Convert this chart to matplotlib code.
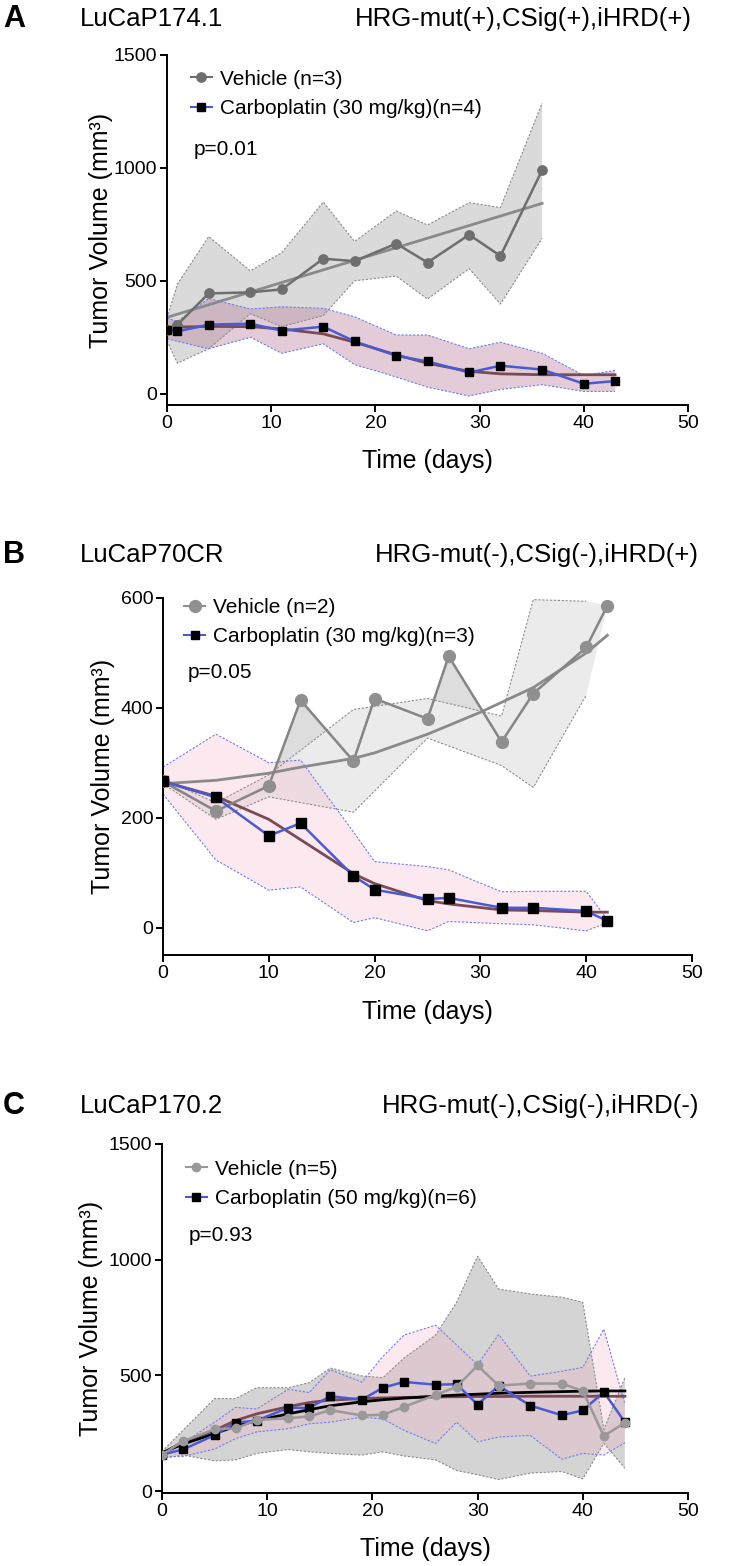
import matplotlib
matplotlib.use("Agg")
from matplotlib import pyplot as plt
from matplotlib.lines import Line2D

plt.rcParams['font.family'] = ['Liberation Sans', 'DejaVu Sans']

W, H = 747, 1566

# ---------------- data ----------------
# Panel A  LuCaP174.1
a_veh_days = [0, 1, 4, 8, 11, 15, 18, 22, 25, 29, 32, 36]
a_veh_mean = [282, 306, 444, 449, 462, 598, 587, 665, 581, 704, 610, 990]
a_veh_up = [335, 485, 696, 544, 624, 849, 674, 809, 747, 846, 824, 1287]
a_veh_lo = [235, 135, 199, 354, 297, 346, 500, 521, 419, 554, 397, 688]
a_veh_fit_days = [0, 36]
a_veh_fit = [338, 843]

a_carbo_days = [0, 1, 4, 8, 11, 15, 18, 22, 25, 29, 32, 36, 40, 43]
a_carbo_mean = [282, 276, 306, 310, 279, 297, 232, 168, 143, 94, 124, 107, 44, 56]
a_carbo_up = [335, 320, 422, 375, 385, 378, 341, 260, 260, 199, 228, 179, 81, 103]
a_carbo_lo = [243, 232, 199, 250, 179, 221, 129, 74, 29, -10, 19, 40, 10, 10]
a_carbo_fit_days = [0, 4, 8, 11, 15, 18, 22, 25, 29, 32, 36, 40, 43]
a_carbo_fit = [294, 298, 297, 287, 265, 228, 172, 135, 99, 88, 84, 84, 84]

# Panel B  LuCaP70CR
b_veh_days = [0, 5, 10, 13, 18, 20, 25, 27, 32, 35, 40, 42]
b_veh_mean = [266, 212, 258, 414, 303, 417, 380, 494, 338, 426, 510, 586]
b_veh_band_days = [0, 5, 10, 18, 25, 32, 35, 40]
b_veh_up = [271, 227, 278, 397, 417, 385, 597, 594]
b_veh_lo = [262, 197, 238, 210, 345, 295, 255, 423]
b_veh_fit_days = [0, 5, 10, 13, 18, 20, 25, 30, 35, 40, 42]
b_veh_fit = [262, 268, 281, 292, 308, 318, 352, 392, 437, 500, 532]

b_carbo_days = [0, 5, 10, 13, 18, 20, 25, 27, 32, 35, 40, 42]
b_carbo_mean = [266, 237, 167, 190, 94, 69, 52, 54, 36, 36, 30, 12]
b_carbo_up = [292, 352, 300, 305, 174, 120, 111, 105, 65, 66, 66, 15]
b_carbo_lo = [243, 123, 68, 74, 9, 18, -6, 11, 7, 5, -6, 9]
b_carbo_fit_days = [0, 5, 10, 13, 18, 20, 25, 27, 32, 35, 40, 42]
b_carbo_fit = [266, 239, 197, 160, 98, 80, 49, 43, 32, 31, 28, 28]

# Panel C  LuCaP170.2
c_days = [0, 2, 5, 7, 9, 12, 14, 16, 19, 21, 23, 26, 28, 30, 32, 35, 38, 40, 42, 44]
c_veh_mean = [158, 215, 268, 271, 308, 315, 323, 350, 327, 330, 364, 416, 451, 543, 456, 465, 465, 433, 238, 296]
c_veh_up = [171, 263, 400, 400, 447, 447, 469, 532, 498, 490, 575, 674, 816, 1015, 873, 852, 838, 816, 267, 490]
c_veh_lo = [141, 156, 131, 135, 163, 180, 170, 163, 156, 170, 152, 135, 89, 71, 50, 78, 85, 53, 207, 99]
c_veh_fit = [166, 203, 249, 280, 305, 334, 352, 369, 386, 395, 402, 410, 415, 419, 423, 427, 430, 432, 433, 433]

c_carbo_mean = [158, 180, 242, 296, 305, 360, 360, 410, 395, 447, 472, 460, 462, 374, 455, 370, 328, 349, 428, 298]
c_carbo_up = [168, 208, 298, 362, 355, 440, 426, 525, 471, 582, 674, 717, 632, 546, 677, 497, 518, 535, 700, 376]
c_carbo_lo = [148, 150, 182, 227, 256, 270, 291, 298, 320, 312, 263, 206, 298, 213, 234, 241, 138, 163, 156, 209]
c_carbo_fit = [163, 213, 263, 305, 334, 365, 383, 393, 400, 403, 405, 407, 408, 409, 409, 410, 410, 410, 410, 410]

BLUE = '#4a5ad6'
BROWN = '#7a4a55'

fig = plt.figure(figsize=(W / 100, H / 100), dpi=100)


def make_axes(left, right, top, bottom):
    return fig.add_axes([left / W, 1 - bottom / H, (right - left) / W, (bottom - top) / H])


def band(ax, days, mean, bdays, up, lo, color, alpha, edge):
    # fill mean->upper and lower->mean separately (overlap gets darker)
    ax.fill(list(days) + list(bdays)[::-1], list(mean) + list(up)[::-1],
            color=color, alpha=alpha, lw=0, zorder=1)
    ax.fill(list(days) + list(bdays)[::-1], list(mean) + list(lo)[::-1],
            color=color, alpha=alpha, lw=0, zorder=1)
    ax.plot(bdays, up, color=edge, lw=0.8, ls=(0, (2, 1.5)), zorder=1.5)
    ax.plot(bdays, lo, color=edge, lw=0.8, ls=(0, (2, 1.5)), zorder=1.5)


def style(ax, ymin, ymax, yticks, ylab_x):
    ax.set_xlim(0, 50)
    ax.set_ylim(ymin, ymax)
    ax.set_xticks(range(0, 51, 10))
    ax.set_yticks(yticks)
    for s in ['top', 'right']:
        ax.spines[s].set_visible(False)
    for s in ['left', 'bottom']:
        ax.spines[s].set_linewidth(1.4)
    ax.tick_params(labelsize=14, length=5, width=1.4, pad=2)
    ax.set_xlabel('Time (days)', fontsize=18)
    ax.set_ylabel('Tumor Volume (mm³)', fontsize=18)
    ax.xaxis.set_label_coords(0.5, -0.125)
    ax.yaxis.set_label_coords(ylab_x, 0.5)


def legend(ax, veh_label, carbo_label, veh_color, ms_c, x, y, ptext, py):
    h1 = Line2D([], [], color=veh_color, marker='o', ms=ms_c, lw=1.5)
    h2 = Line2D([], [], color=BLUE, marker='s', mfc='black', mec='black', ms=6, lw=1.5)
    ax.legend([h1, h2], [veh_label, carbo_label], loc='upper left', bbox_to_anchor=(x, y),
              frameon=False, fontsize=15, handlelength=1.0, handletextpad=0.4,
              labelspacing=0.5, borderpad=0, borderaxespad=0)
    ax.text(x + 0.006, py, ptext, transform=ax.transAxes, fontsize=15, va='center')


def header(y, letter, name, tags, right):
    fig.text(3 / W, 1 - y / H, letter, fontsize=22, fontweight='bold', va='center')
    fig.text(80 / W, 1 - y / H, name, fontsize=18.5, va='center')
    fig.text(right / W, 1 - y / H, tags, fontsize=18.5, va='center', ha='right')


# ---------------- Panel A ----------------
ax = make_axes(167, 688, 55, 405)
band(ax, a_veh_days, a_veh_mean, a_veh_days, a_veh_up, a_veh_lo, '#bdbdbd', 0.55, '#8c8c8c')
band(ax, a_carbo_days, a_carbo_mean, a_carbo_days, a_carbo_up, a_carbo_lo, '#b9809f', 0.4, '#6f7de8')
ax.plot(a_veh_fit_days, a_veh_fit, color='#8a8a8a', lw=2, zorder=2)
ax.plot(a_carbo_fit_days, a_carbo_fit, color=BROWN, lw=2, zorder=2)
ax.plot(a_veh_days, a_veh_mean, color='#6e6e6e', lw=1.8, marker='o', ms=6.7, zorder=3)
ax.plot(a_carbo_days, a_carbo_mean, color=BLUE, lw=1.8, marker='s', ms=6.2,
        mfc='black', mec='black', zorder=4)
style(ax, -50, 1500, [0, 500, 1000, 1500], -0.104)
legend(ax, 'Vehicle (n=3)', 'Carboplatin (30 mg/kg)(n=4)', '#6e6e6e', 6.7, 0.046, 0.958, 'p=0.01', 0.729)
header(19, 'A', 'LuCaP174.1', 'HRG-mut(+),CSig(+),iHRD(+)', 692)

# ---------------- Panel B ----------------
ax = make_axes(163, 692, 598, 955)
band(ax, b_veh_days, b_veh_mean, b_veh_band_days, b_veh_up, b_veh_lo, '#bdbdbd', 0.3, '#8c8c8c')
band(ax, b_carbo_days, b_carbo_mean, b_carbo_days, b_carbo_up, b_carbo_lo, '#f7a8c4', 0.25, '#6f7de8')
ax.plot(b_veh_fit_days, b_veh_fit, color='#8a8a8a', lw=2, zorder=2)
ax.plot(b_carbo_fit_days, b_carbo_fit, color=BROWN, lw=2, zorder=2)
ax.plot(b_veh_days, b_veh_mean, color='#858585', lw=1.8, marker='o', ms=8.5,
        mfc='#8f8f8f', mec='#8f8f8f', zorder=3)
ax.plot(b_carbo_days, b_carbo_mean, color=BLUE, lw=1.8, marker='s', ms=6.5,
        mfc='black', mec='black', zorder=4)
style(ax, -50, 600, [0, 200, 400, 600], -0.091)
legend(ax, 'Vehicle (n=2)', 'Carboplatin (30 mg/kg)(n=3)', '#8f8f8f', 8.5, 0.040, 1.0, 'p=0.05', 0.791)
header(555, 'B', 'LuCaP70CR', 'HRG-mut(-),CSig(-),iHRD(+)', 699)

# ---------------- Panel C ----------------
ax = make_axes(162, 688, 1144, 1493)
band(ax, c_days, c_veh_mean, c_days, c_veh_up, c_veh_lo, '#a0a0a0', 0.45, '#8c8c8c')
band(ax, c_days, c_carbo_mean, c_days, c_carbo_up, c_carbo_lo, '#f7a8c4', 0.25, '#6f7de8')
ax.plot(c_days, c_carbo_fit, color=BROWN, lw=2, zorder=2)
ax.plot(c_days, c_veh_fit, color='black', lw=2, zorder=2)
ax.plot(c_days, c_carbo_mean, color=BLUE, lw=1.8, marker='s', ms=6,
        mfc='black', mec='black', zorder=3)
ax.plot(c_days, c_veh_mean, color='#999999', lw=1.8, marker='o', ms=6, zorder=4)
style(ax, -8, 1500, [0, 500, 1000, 1500], -0.112)
legend(ax, 'Vehicle (n=5)', 'Carboplatin (50 mg/kg)(n=6)', '#999999', 6, 0.045, 0.955, 'p=0.93', 0.739)
header(1106, 'C', 'LuCaP170.2', 'HRG-mut(-),CSig(-),iHRD(-)', 699)

fig.savefig('out.png', dpi=100)
